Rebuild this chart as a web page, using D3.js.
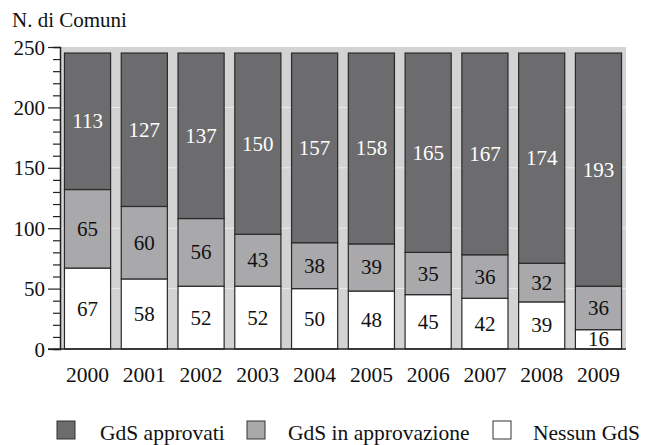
<!DOCTYPE html>
<html>
<head>
<meta charset="utf-8">
<script src="https://cdn.jsdelivr.net/npm/d3@7"></script>
<style>
  body { margin: 0; background: #fff; }
  svg { display: block; }
</style>
</head>
<body>
<svg id="chart" width="645" height="445"></svg>
<script>
const years = ["2000", "2001", "2002", "2003", "2004", "2005", "2006", "2007", "2008", "2009"];
const nessun = [67, 58, 52, 52, 50, 48, 45, 42, 39, 16];
const inApprovazione = [65, 60, 56, 43, 38, 39, 35, 36, 32, 36];
const approvati = [113, 127, 137, 150, 157, 158, 165, 167, 174, 193];
const yTicks = [0, 50, 100, 150, 200, 250];
const seriesNames = ["GdS approvati", "GdS in approvazione", "Nessun GdS"];

const fontFam = "Liberation Serif";
const svg = d3.select("#chart");
const plotLeft = 60, plotRight = 626, plotTop = 47, plotBottom = 349;

let x = d3.scaleBand().domain(years).range([plotLeft, plotRight]).paddingInner(0.17).paddingOuter(0.07);
let y = d3.scaleLinear().domain([0, 250]).range([plotBottom, plotTop]);

// plot background
svg.append("rect")
  .attr("x", plotLeft).attr("y", plotTop)
  .attr("width", plotRight - plotLeft).attr("height", plotBottom - plotTop)
  .attr("fill", "#d3d3d4");

// grid
svg.append("g").selectAll("line").data(yTicks.slice(1, 5)).enter().append("line")
  .attr("x1", plotLeft).attr("x2", plotRight)
  .attr("y1", d => y(d)).attr("y2", d => y(d))
  .attr("stroke", "#ececec").attr("stroke-width", 1);

// stack the data
const rows = years.map((yr, i) => ({ year: yr, nessun: nessun[i], inapp: inApprovazione[i], app: approvati[i] }));
const stack = d3.stack().keys(["nessun", "inapp", "app"])(rows);
const fills = { nessun: "#ffffff", inapp: "#a9a9ab", app: "#6c6c6e" };
const textFill = { nessun: "#111", inapp: "#111", app: "#fff" };

const layers = svg.selectAll(".layer").data(stack).enter().append("g").attr("class", "layer");
layers.selectAll("rect").data(d => d.map(s => ({ key: d.key, s: s }))).enter().append("rect")
  .attr("x", d => x(d.s.data.year) + 0.5)
  .attr("y", d => y(d.s[1]))
  .attr("width", x.bandwidth() - 1)
  .attr("height", d => y(d.s[0]) - y(d.s[1]))
  .attr("fill", d => fills[d.key])
  .attr("stroke", "#2a2a2a").attr("stroke-width", 1.2);

layers.selectAll("text").data(d => d.map(s => ({ key: d.key, s: s }))).enter().append("text")
  .text(d => d.s[1] - d.s[0])
  .attr("x", d => x(d.s.data.year) + x.bandwidth() / 2)
  .attr("y", d => (y(d.s[0]) + y(d.s[1])) / 2 + 7)
  .attr("text-anchor", "middle")
  .style("font-family", fontFam)
  .style("font-size", "21px")
  .attr("fill", d => textFill[d.key]);

// y axis
const yAxis = svg.append("g").attr("transform", "translate(" + plotLeft + ",0)");
yAxis.call(d3.axisLeft(y).tickValues(d3.range(0, 251, 10)).tickSize(7).tickFormat(""));
yAxis.selectAll(".tick line").filter(d => d % 50 === 0).attr("x2", -12);
yAxis.selectAll(".tick line").attr("stroke", "#222").attr("stroke-width", 1.2);
yAxis.select(".domain").attr("stroke", "#222").attr("stroke-width", 1.5);
yAxis.selectAll(".tick").filter(d => d % 50 === 0).append("text")
  .text(d => d)
  .attr("x", -15).attr("dy", "0.34em")
  .attr("text-anchor", "end")
  .style("font-family", fontFam)
  .style("font-size", "21px")
  .attr("fill", "#111");

// x axis baseline
svg.append("line")
  .attr("x1", plotLeft - 12).attr("x2", plotRight)
  .attr("y1", plotBottom).attr("y2", plotBottom)
  .attr("stroke", "#222").attr("stroke-width", 1.5);

// x labels
svg.append("g").selectAll("text").data(years).enter().append("text")
  .text(d => d)
  .attr("x", d => x(d) + x.bandwidth() / 2)
  .attr("y", 382)
  .attr("text-anchor", "middle")
  .style("font-family", fontFam)
  .style("font-size", "21.5px")
  .attr("fill", "#111");

// y title
svg.append("text").text("N. di Comuni")
  .attr("x", 12).attr("y", 27)
  .style("font-family", fontFam)
  .style("font-size", "21px").attr("fill", "#111");

// legend
const legX = [57, 247, 493];
const legTextX = [100, 288, 533];
const legFill = [fills.app, fills.inapp, fills.nessun];
const leg = svg.append("g").selectAll("g").data(seriesNames).enter().append("g");
leg.append("rect")
  .attr("x", (d, i) => legX[i]).attr("y", 421)
  .attr("width", 18).attr("height", 18)
  .attr("fill", (d, i) => legFill[i])
  .attr("stroke", "#333").attr("stroke-width", 1);
leg.append("text").text(d => d)
  .attr("x", (d, i) => legTextX[i]).attr("y", 440)
  .style("font-family", fontFam)
  .style("font-size", "21.5px").attr("fill", "#111");
</script>
</body>
</html>
